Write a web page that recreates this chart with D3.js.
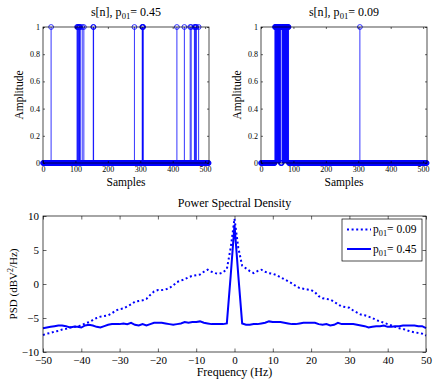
<!DOCTYPE html>
<html>
<head>
<meta charset="utf-8">
<script src="https://cdn.jsdelivr.net/npm/d3@7"></script>
<style>
  body { margin: 0; background: #fff; }
  svg text { font-family: "Liberation Serif", "Times New Roman", serif; fill: #000; }
  .ax path.domain { display: none; }
  .ax line { stroke: #000; stroke-width: 0.6; }
</style>
</head>
<body>
<svg id="chart" width="436" height="381"></svg>
<script>
// samples where s[n] = 1 (all other samples are 0), 512 samples each
var N = 512;
var onesA = [25, 105, 107, 108, 110, 112, 113, 115, 121, 126, 155, 156, 282,
             306, 307, 308, 309, 413, 436, 454, 457, 467, 469, 471, 473, 480];
var onesB = [43,44,45,46,47,48,49,50,51,52,53,54,55,56,57,58,59,60,
             65,66,67,68,69,70,71,72,73,74,75,76,77,78,79,80,81,82,83,84,85, 305];
var sampleTicks = [0, 100, 200, 300, 400, 500];
var ampTicks = [0, 0.2, 0.4, 0.6, 0.8, 1];

// PSD curves, 1 Hz steps from -50 to 50
var freq = d3.range(-50, 51);
var psd09 = [-7.5,-7.3,-7.2,-7.0,-6.9,-6.7,-6.6,-6.4,-6.3,-6.2,
             -6.1,-5.8,-5.6,-5.3,-5.0,-4.8,-4.7,-4.6,-4.3,-3.9,
             -3.7,-3.6,-3.3,-3.0,-2.6,-2.5,-2.4,-2.2,-1.6,-1.1,
             -0.9,-0.9,-0.8,-0.6,-0.2,0.3,0.5,0.7,1.0,1.2,
             1.3,1.4,1.8,2.1,1.8,1.6,1.5,1.7,2.2,5.3,
             9.6,
             5.3,2.7,2.3,1.9,1.6,1.9,2.1,1.8,1.6,1.5,
             1.3,1.0,0.7,0.4,0.1,-0.3,-0.6,-0.7,-0.8,-0.9,
             -1.2,-1.8,-2.1,-2.2,-2.3,-2.6,-3.0,-3.3,-3.4,-3.5,
             -3.9,-4.2,-4.5,-4.6,-4.8,-5.0,-5.3,-5.5,-5.7,-5.9,
             -6.1,-6.3,-6.5,-6.6,-6.8,-7.0,-7.1,-7.2,-7.3,-7.6];
var psd45 = [-6.5,-6.4,-6.3,-6.2,-6.1,-6.1,-6.2,-6.4,-6.3,-6.3,
             -6.4,-6.1,-6.0,-6.1,-6.3,-6.4,-6.2,-6.0,-5.9,-5.9,
             -5.9,-5.8,-5.9,-5.7,-6.0,-6.1,-5.9,-6.1,-5.9,-5.7,
             -5.7,-5.7,-5.8,-5.9,-6.0,-5.9,-5.8,-5.6,-5.7,-5.6,
             -5.6,-5.5,-5.7,-5.8,-5.9,-5.9,-5.9,-5.9,-5.8,1.2,
             8.7,
             1.2,-5.8,-6.0,-6.0,-5.9,-5.9,-5.8,-5.7,-5.5,-5.6,
             -5.6,-5.6,-5.7,-5.8,-5.9,-5.9,-5.8,-5.7,-5.7,-5.7,
             -5.7,-5.9,-6.0,-5.9,-6.1,-6.0,-5.7,-5.9,-5.9,-5.9,
             -5.9,-6.0,-6.1,-6.2,-6.4,-6.3,-6.2,-6.2,-6.1,-6.3,
             -6.3,-6.2,-6.2,-6.1,-6.1,-6.1,-6.1,-6.2,-6.2,-6.5];
var freqTicks = [-50, -40, -30, -20, -10, 0, 10, 20, 30, 40, 50];
var psdTicks = [-10, -5, 0, 5, 10];

var blue = "#0000ff";
var serif = "Liberation Serif, Times New Roman, serif";
var svg = d3.select("#chart");

// title / label with a subscript "01"
function pLabel(sel, before, after, size) {
    sel.append("tspan").text(before + "p");
    sel.append("tspan").attr("font-size", size * 0.72).attr("dy", size * 0.28).text("01");
    sel.append("tspan").attr("dy", -size * 0.28).text(after);
}

function boxTicks(g, x, y, xt, yt, xfmt, yfmt, tl, fs, pad) {
    var w = x.range()[1] - x.range()[0], h = y.range()[0] - y.range()[1];
    var gx = g.append("g").attr("class", "ax").attr("transform", "translate(0," + y.range()[0] + ")")
        .call(d3.axisBottom(x).tickValues(xt).tickFormat(xfmt).tickSizeInner(-tl).tickSizeOuter(0).tickPadding(pad));
    gx.attr("font-family", serif).selectAll("text").attr("font-size", fs);
    g.append("g").attr("class", "ax").attr("transform", "translate(0," + y.range()[1] + ")")
        .call(d3.axisTop(x).tickValues(xt).tickFormat("").tickSizeInner(-tl).tickSizeOuter(0));
    var gy = g.append("g").attr("class", "ax").attr("transform", "translate(" + x.range()[0] + ",0)")
        .call(d3.axisLeft(y).tickValues(yt).tickFormat(yfmt).tickSizeInner(-tl).tickSizeOuter(0).tickPadding(pad));
    gy.attr("font-family", serif).selectAll("text").attr("font-size", fs);
    g.append("g").attr("class", "ax").attr("transform", "translate(" + x.range()[1] + ",0)")
        .call(d3.axisRight(y).tickValues(yt).tickFormat("").tickSizeInner(-tl).tickSizeOuter(0));
    g.append("rect").attr("x", x.range()[0]).attr("y", y.range()[1]).attr("width", w).attr("height", h)
        .attr("fill", "none").attr("stroke", "#000").attr("stroke-width", 0.7);
}

function stemPlot(x0, x1, ones, pval) {
    var x = d3.scaleLinear().domain([0, N]).range([x0, x1]);
    var y = d3.scaleLinear().domain([0, 1]).range([163, 27]);
    var g = svg.append("g");
    var s = d3.range(N).map(function (n) { return { n: n, v: ones.indexOf(n) >= 0 ? 1 : 0 }; });

    g.selectAll("line.stem").data(s.filter(function (d) { return d.v; })).enter().append("line")
        .attr("x1", function (d) { return x(d.n); }).attr("x2", function (d) { return x(d.n); })
        .attr("y1", y(0)).attr("y2", function (d) { return y(d.v); })
        .attr("stroke", blue).attr("stroke-width", 0.8);
    g.selectAll("circle").data(s).enter().append("circle")
        .attr("cx", function (d) { return x(d.n); }).attr("cy", function (d) { return y(d.v); })
        .attr("r", 2.4).attr("fill", "none").attr("stroke", blue).attr("stroke-width", 0.8);

    boxTicks(g, x, y, sampleTicks, ampTicks, d3.format("d"), d3.format("~g"), 2, 8, 3);

    var cx = (x0 + x1) / 2;
    pLabel(g.append("text").attr("x", cx).attr("y", 16).attr("text-anchor", "middle").attr("font-size", 12),
        "s[n], ", "= " + pval, 12);
    g.append("text").attr("x", cx).attr("y", 186).attr("text-anchor", "middle").attr("font-size", 11.5).text("Samples");
    g.append("text").attr("transform", "translate(" + (x0 - 20) + ",95) rotate(-90)")
        .attr("text-anchor", "middle").attr("font-size", 11.5).text("Amplitude");
}

stemPlot(43, 209, onesA, "0.45");
stemPlot(261, 427, onesB, "0.09");

// PSD plot
var fx = d3.scaleLinear().domain([-50, 50]).range([43, 426]);
var fy = d3.scaleLinear().domain([-10, 10]).range([352, 216]);
var gp = svg.append("g");
var line = d3.line().x(function (d) { return fx(d[0]); }).y(function (d) { return fy(d[1]); });

gp.append("path").datum(d3.zip(freq, psd45)).attr("d", line)
    .attr("fill", "none").attr("stroke", blue).attr("stroke-width", 2);
gp.append("path").datum(d3.zip(freq, psd09)).attr("d", line)
    .attr("fill", "none").attr("stroke", blue).attr("stroke-width", 2).attr("stroke-dasharray", "2,2.6");

boxTicks(gp, fx, fy, freqTicks, psdTicks, d3.format("d"), d3.format("d"), 3.5, 11, 4);

gp.append("text").attr("x", 234.5).attr("y", 207).attr("text-anchor", "middle").attr("font-size", 12)
    .text("Power Spectral Density");
gp.append("text").attr("x", 234.5).attr("y", 376).attr("text-anchor", "middle").attr("font-size", 12)
    .text("Frequency (Hz)");
var yl = gp.append("text").attr("transform", "translate(17,284) rotate(-90)")
    .attr("text-anchor", "middle").attr("font-size", 11);
yl.append("tspan").text("PSD (dBV");
yl.append("tspan").attr("font-size", 8).attr("dy", -4).text("2");
yl.append("tspan").attr("dy", 4).text("/Hz)");

// legend
var lg = gp.append("g");
lg.append("rect").attr("x", 342).attr("y", 219).attr("width", 80).attr("height", 42)
    .attr("fill", "#fff").attr("stroke", "#000").attr("stroke-width", 0.7);
var items = [{ v: "0.09", dash: "2,2.6", y: 229.5 }, { v: "0.45", dash: null, y: 249 }];
items.forEach(function (it) {
    lg.append("line").attr("x1", 347).attr("x2", 371).attr("y1", it.y).attr("y2", it.y)
        .attr("stroke", blue).attr("stroke-width", 2).attr("stroke-dasharray", it.dash);
    pLabel(lg.append("text").attr("x", 373).attr("y", it.y + 3.5).attr("font-size", 11.5), "", "= " + it.v, 11.5);
});
</script>
</body>
</html>
